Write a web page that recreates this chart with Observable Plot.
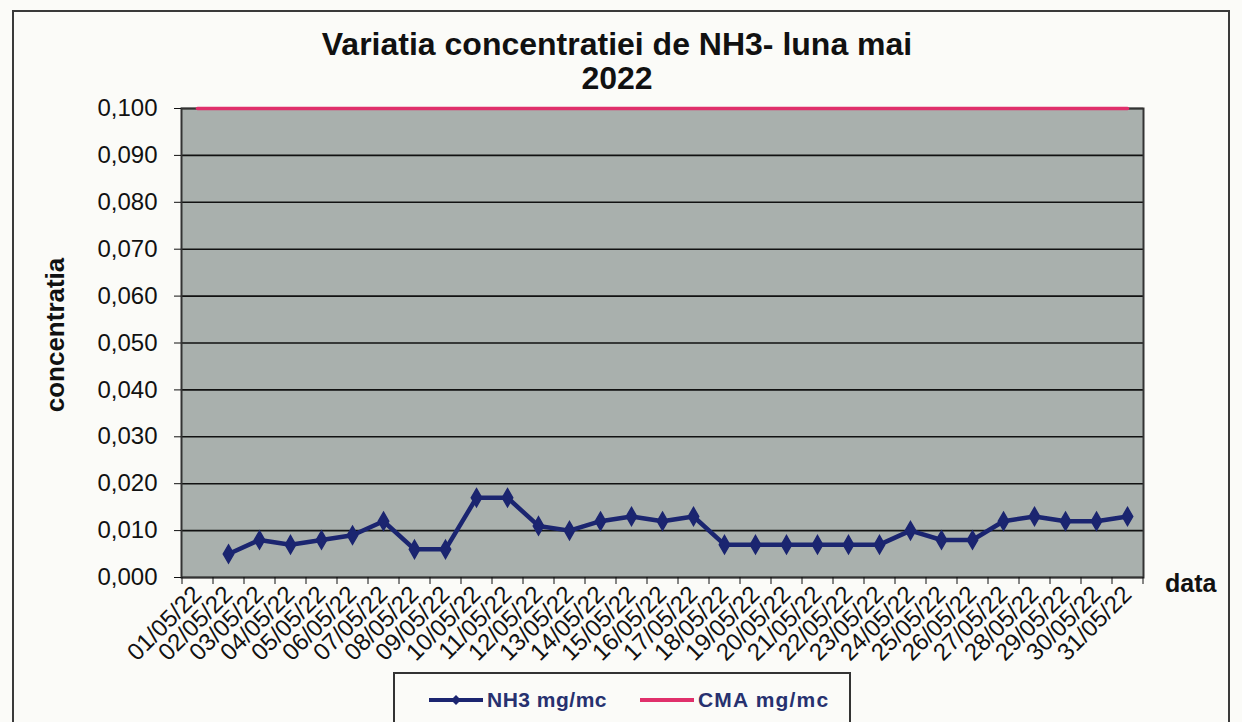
<!DOCTYPE html>
<html>
<head>
<meta charset="utf-8">
<script src="https://cdn.jsdelivr.net/npm/d3@7"></script>
<script src="https://cdn.jsdelivr.net/npm/@observablehq/plot@0.6"></script>
<style>
  html, body { margin: 0; padding: 0; background: #fbfbf8; }
  #page { position: relative; width: 1242px; height: 722px; overflow: hidden; font-family: "Liberation Sans", Arial, sans-serif; color: #111; }
  #border { position: absolute; left: 12px; top: 10px; width: 1218px; height: 760px; border: 2px solid #3a3a3a; box-sizing: border-box; }
  .title { position: absolute; left: 0; width: 1234px; text-align: center; font-weight: bold; font-size: 32px; line-height: 1; }
  #chart { position: absolute; left: 0; top: 95px; }
  #ylab { position: absolute; left: 55px; top: 335px; transform: translate(-50%, -50%) rotate(-90deg); font-weight: bold; font-size: 26px; white-space: nowrap; }
  #xlab { position: absolute; left: 1165px; top: 569px; font-weight: bold; font-size: 25px; }
  #legend { position: absolute; left: 393px; top: 672px; width: 458px; height: 80px; border: 2px solid #333; box-sizing: border-box; background: #fbfbf8; }
  .item { position: absolute; top: 14px; display: flex; align-items: center; font-weight: bold; font-size: 21px; color: #27316f; }
</style>
</head>
<body>
<div id="page">
  <div id="border"></div>
  <div class="title" style="top:28px">Variatia concentratiei de NH3- luna mai</div>
  <div class="title" style="top:62px">2022</div>
  <div id="chart"></div>
  <div id="ylab">concentratia</div>
  <div id="xlab">data</div>
  <div id="legend">
    <div class="item" style="left:32px">
      <svg width="58" height="14"><line x1="2" y1="7" x2="56" y2="7" stroke="#1b2570" stroke-width="4"/><path d="M29 2 L34 7 L29 12 L24 7 Z" fill="#1b2570"/></svg>
      <span style="margin-left:2px; letter-spacing:0.5px">NH3 mg/mc</span>
    </div>
    <div class="item" style="left:243px">
      <svg width="58" height="14"><line x1="2" y1="7" x2="56" y2="7" stroke="#e0306b" stroke-width="4"/></svg>
      <span style="margin-left:2px; letter-spacing:1.2px">CMA mg/mc</span>
    </div>
  </div>
</div>
<script>
const dates = ["01/05/22","02/05/22","03/05/22","04/05/22","05/05/22","06/05/22","07/05/22","08/05/22","09/05/22","10/05/22","11/05/22","12/05/22","13/05/22","14/05/22","15/05/22","16/05/22","17/05/22","18/05/22","19/05/22","20/05/22","21/05/22","22/05/22","23/05/22","24/05/22","25/05/22","26/05/22","27/05/22","28/05/22","29/05/22","30/05/22","31/05/22"];
const nh3 = [null,0.005,0.008,0.007,0.008,0.009,0.012,0.006,0.006,0.017,0.017,0.011,0.010,0.012,0.013,0.012,0.013,0.007,0.007,0.007,0.007,0.007,0.007,0.010,0.008,0.008,0.012,0.013,0.012,0.012,0.013];
const cma = [0.1,0.1,0.1,0.1,0.1,0.1,0.1,0.1,0.1,0.1,0.1,0.1,0.1,0.1,0.1,0.1,0.1,0.1,0.1,0.1,0.1,0.1,0.1,0.1,0.1,0.1,0.1,0.1,0.1,0.1,0.1];
const yTicks = [0,0.01,0.02,0.03,0.04,0.05,0.06,0.07,0.08,0.09,0.1];

const nh3Data = dates.map((d, i) => ({date: d, value: nh3[i]})).filter(d => d.value != null);
const cmaData = dates.map((d, i) => ({date: d, value: cma[i]}));
const fmt = v => v.toFixed(3).replace(".", ",");

const chart = Plot.plot({
  width: 1242,
  height: 627,
  marginLeft: 181,
  marginRight: 99,
  marginTop: 13,
  marginBottom: 145,
  style: {fontFamily: "'Liberation Sans', Arial, sans-serif", fontSize: "24px", color: "#111", background: "transparent"},
  x: {type: "point", domain: dates, padding: 0.5, label: null},
  y: {domain: [0, 0.1], label: null},
  marks: [
    Plot.frame({fill: "#a9b0ad", stroke: null}),
    Plot.gridY(yTicks, {stroke: "#111", strokeOpacity: 1, strokeWidth: 1.6}),
    Plot.frame({stroke: "#333", strokeWidth: 2}),
    Plot.axisY({ticks: yTicks, tickFormat: fmt, tickSize: 7, tickPadding: 17, fontSize: 24, stroke: "#111"}),
    Plot.axisX({tickSize: 7, text: null, dx: -15.5, stroke: "#111"}),
    Plot.axisX({ticks: [dates[dates.length - 1]], tickSize: 7, text: null, dx: 15.5, stroke: "#111"}),
    Plot.axisX({tickSize: 0, tickRotate: -45, tickPadding: 13, fontSize: 24}),
    Plot.line(cmaData, {x: "date", y: "value", stroke: "#e0306b", strokeWidth: 3.5}),
    Plot.line(nh3Data, {x: "date", y: "value", stroke: "#1b2570", strokeWidth: 4.5}),
    Plot.dot(nh3Data, {x: "date", y: "value", symbol: "diamond", r: 5.5, fill: "#1b2570", stroke: "#1b2570"})
  ]
});
document.getElementById("chart").appendChild(chart);
</script>
</body>
</html>
